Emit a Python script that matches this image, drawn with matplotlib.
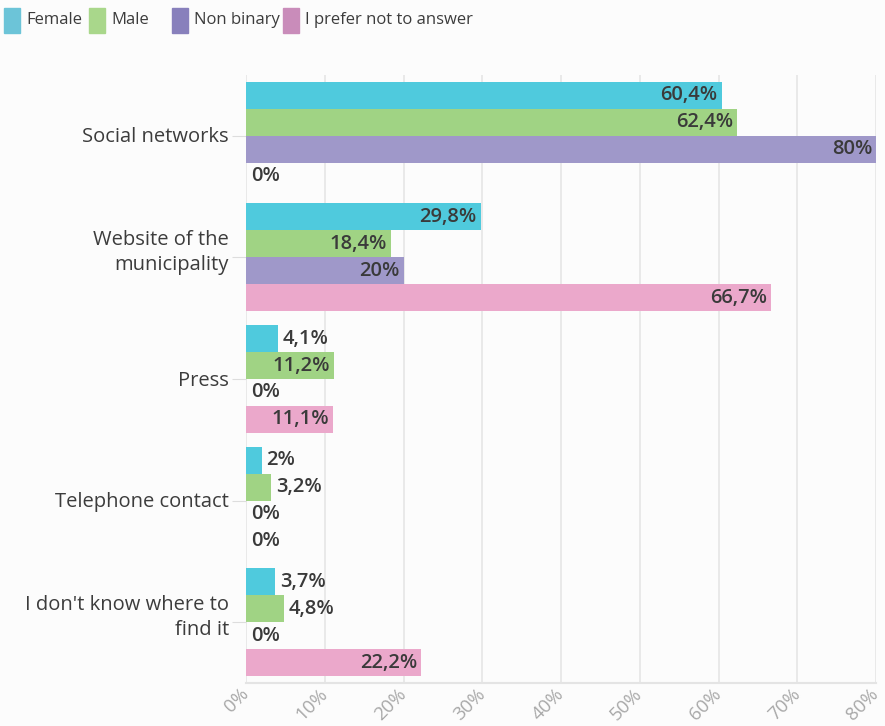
from matplotlib import pyplot as plt
from matplotlib.patches import Rectangle
from matplotlib.transforms import ScaledTranslation
import numpy as np

# Data
categories = ["Social networks", "Website of the\nmunicipality", "Press",
              "Telephone contact", "I don't know where to\nfind it"]
series = ["Female", "Male", "Non binary", "I prefer not to answer"]
female = [60.4, 29.8, 4.1, 2, 3.7]
male = [62.4, 18.4, 11.2, 3.2, 4.8]
non_binary = [80, 20, 0, 0, 0]
no_answer = [0, 66.7, 11.1, 0, 22.2]
values = [female, male, non_binary, no_answer]
ticks = [0, 10, 20, 30, 40, 50, 60, 70, 80]

bar_colors = ["#4fcadd", "#a0d384", "#9f98c9", "#eba8cb"]
legend_colors = ["#6cc4d8", "#a9d78b", "#8880bc", "#c98cba"]

plt.rcParams['font.family'] = ['Open Sans', 'DejaVu Sans']
BG = "#fcfcfc"

fig = plt.figure(figsize=(8.85, 7.26), dpi=100, facecolor=BG)
W, H = 885, 726
ax = fig.add_axes([246 / W, 1 - 683 / H, (876 - 246) / W, (683 - 75) / H])
ax.set_facecolor(BG)

bar_h = 0.222
y = np.arange(len(categories))
for i, vals in enumerate(values):
    pos = y - 1.5 * bar_h + i * bar_h
    ax.barh(pos, vals, height=bar_h, color=bar_colors[i], zorder=2)
    for p, v in zip(pos, vals):
        txt = ("%g" % v).replace(".", ",") + "%"
        if v >= 7:
            ax.text(v - 0.5, p, txt, ha="right", va="center", fontsize=14.5,
                    fontweight="semibold", color="#3a3a3a", zorder=4)
        else:
            ax.text(v + 0.6, p, txt, ha="left", va="center", fontsize=14.5,
                    fontweight="semibold", color="#3a3a3a", zorder=4)

ax.set_xlim(0, 80)
ax.set_ylim(len(categories) - 0.5, -0.5)
ax.set_xticks(ticks)
ax.set_xticklabels([str(t) + "%" for t in ticks], rotation=45, ha="right",
                   va="center", rotation_mode="anchor", fontsize=13.5,
                   color="#a8a8a8")

# Category labels (drawn as text so two-line labels can sit a little higher)
ax.set_yticks(y)
ax.set_yticklabels([])
for yy, cat in zip(y, categories):
    up = 5 if "\n" in cat else -1.5
    tr = ax.get_yaxis_transform() + ScaledTranslation(-17 / 100, up / 100,
                                                      fig.dpi_scale_trans)
    ax.text(0, yy, cat, transform=tr, ha="right", va="center", fontsize=14.5,
            color="#3c3c3c", multialignment="right", linespacing=1.35)

ax.tick_params(axis="y", length=10, color="#dddddd")
ax.tick_params(axis="x", length=0, pad=6)
ax.grid(axis="x", color="#d8d8d8", alpha=0.6, linewidth=1.2, zorder=3)
for s in ["top", "right", "left"]:
    ax.spines[s].set_visible(False)
ax.spines["bottom"].set_color("#e4e4e4")
ax.spines["bottom"].set_linewidth(1.5)

# Legend
leg_x = [4, 89, 172, 283]
for lx, name, c in zip(leg_x, series, legend_colors):
    fig.patches.append(Rectangle((lx / W, 1 - 33 / H), 16 / W, 25 / H,
                                 transform=fig.transFigure, color=c))
    fig.text((lx + 22) / W, 1 - 20 / H, name, fontsize=12, color="#3c3c3c",
             va="center", ha="left")

plt.savefig("out.png", dpi=100, facecolor=BG)
